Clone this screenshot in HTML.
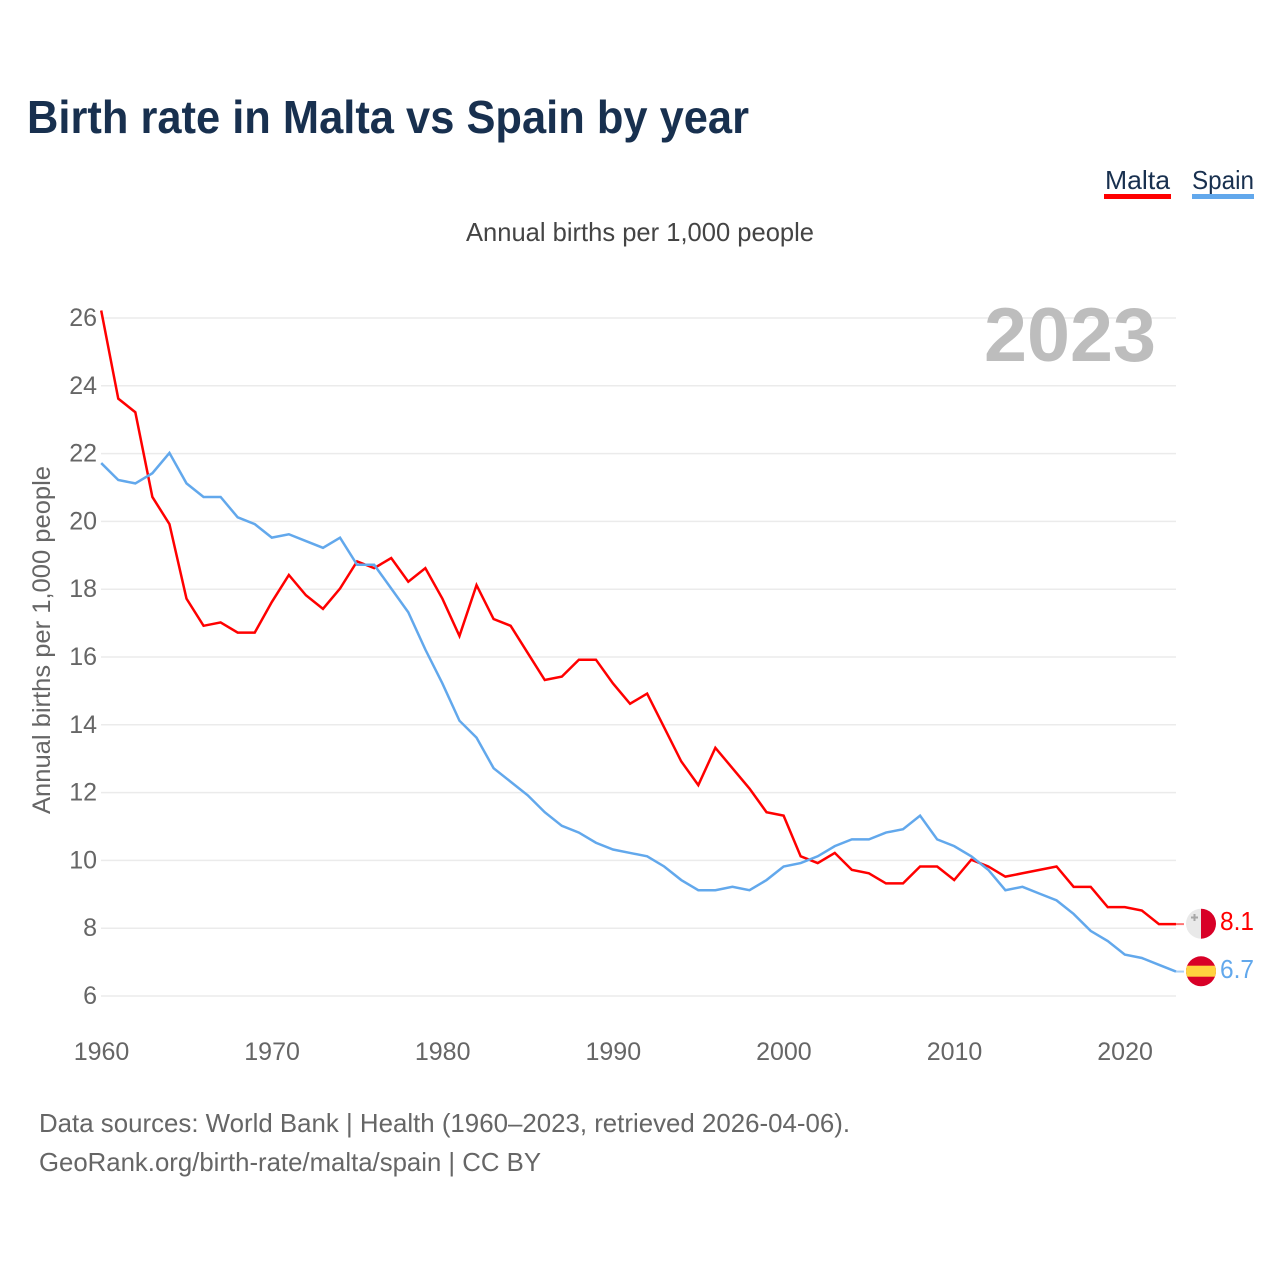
<!DOCTYPE html>
<html lang="en">
<head>
<meta charset="utf-8">
<title>Birth rate in Malta vs Spain by year</title>
<style>
html,body{margin:0;padding:0;background:#fff;}
svg{display:block;}
text{font-family:"Liberation Sans",sans-serif;}
</style>
</head>
<body>
<svg id="chart" xmlns="http://www.w3.org/2000/svg" width="1280" height="1280" viewBox="0 0 1280 1280">
  <rect x="0" y="0" width="1280" height="1280" fill="#fff"/>
  <text x="27" y="133" font-size="46" font-weight="700" fill="#18304f" textLength="722" lengthAdjust="spacingAndGlyphs">Birth rate in Malta vs Spain by year</text>

  <g>
    <text x="1105" y="189" font-size="26" fill="#18304f" textLength="65" lengthAdjust="spacingAndGlyphs">Malta</text>
    <rect x="1104" y="194" width="67" height="5" fill="#ff0000"/>
  </g>
  <g>
    <text x="1192" y="189" font-size="26" fill="#18304f" textLength="62" lengthAdjust="spacingAndGlyphs">Spain</text>
    <rect x="1192" y="194" width="62" height="5" fill="#62a8ec"/>
  </g>

  <text x="466" y="241" font-size="26" fill="#444" textLength="348" lengthAdjust="spacingAndGlyphs">Annual births per 1,000 people</text>
  <text transform="translate(50 814) rotate(-90)" x="0" y="0" font-size="25" fill="#666" textLength="348" lengthAdjust="spacingAndGlyphs">Annual births per 1,000 people</text>

  <g id="grid"></g>
  <g id="yticks"></g>
  <g id="xticks"></g>

  <text x="984" y="361" font-size="76" font-weight="700" fill="#bdbdbd" textLength="172" lengthAdjust="spacingAndGlyphs">2023</text>

  <g id="series" transform="translate(-0.3 -0.7)"></g>

  <g id="flag-malta">
    <clipPath id="clip-malta"><circle cx="1201" cy="923.700" r="15"/></clipPath>
    <g clip-path="url(#clip-malta)">
      <rect x="1186" y="908" width="15" height="31" fill="#e9e9e9"/>
      <rect x="1201" y="908" width="15" height="31" fill="#d80027"/>
      <path d="M1193.500 914h2v2.500h2.500v2h-2.500v2.500h-2v-2.500H1191v-2h2.500z" fill="#a7a7a7"/>
    </g>
  </g>
  <g id="flag-spain">
    <clipPath id="clip-spain"><circle cx="1201" cy="971.300" r="15"/></clipPath>
    <g clip-path="url(#clip-spain)">
      <rect x="1186" y="956" width="30" height="31" fill="#d80027"/>
      <rect x="1186" y="965.700" width="30" height="11" fill="#ffd23f"/>
    </g>
  </g>

  <text id="value-malta" x="1220" y="930" font-size="26" fill="#ff0000" textLength="34" lengthAdjust="spacingAndGlyphs"></text>
  <text id="value-spain" x="1220" y="978" font-size="26" fill="#62a8ec" textLength="34" lengthAdjust="spacingAndGlyphs"></text>

  <text x="39" y="1132" font-size="26" fill="#666" textLength="811" lengthAdjust="spacingAndGlyphs">Data sources: World Bank | Health (1960–2023, retrieved 2026-04-06).</text>
  <text x="39" y="1171" font-size="26" fill="#666" textLength="502" lengthAdjust="spacingAndGlyphs">GeoRank.org/birth-rate/malta/spain | CC BY</text>
</svg>
<script>
var firstYear = 1960;
var yTickValues = [6, 8, 10, 12, 14, 16, 18, 20, 22, 24, 26];
var xTickValues = [1960, 1970, 1980, 1990, 2000, 2010, 2020];
var maltaValues = [26.2,23.6,23.2,20.7,19.9,17.7,16.9,17.0,16.7,16.7,17.6,18.4,17.8,17.4,18.0,18.8,18.6,18.9,18.2,18.6,17.7,16.6,18.1,17.1,16.9,16.1,15.3,15.4,15.9,15.9,15.2,14.6,14.9,13.9,12.9,12.2,13.3,12.7,12.1,11.4,11.3,10.1,9.9,10.2,9.7,9.6,9.3,9.3,9.8,9.8,9.4,10.0,9.8,9.5,9.6,9.7,9.8,9.2,9.2,8.6,8.6,8.5,8.1,8.1];
var spainValues = [21.7,21.2,21.1,21.4,22.0,21.1,20.7,20.7,20.1,19.9,19.5,19.6,19.4,19.2,19.5,18.7,18.7,18.0,17.3,16.2,15.2,14.1,13.6,12.7,12.3,11.9,11.4,11.0,10.8,10.5,10.3,10.2,10.1,9.8,9.4,9.1,9.1,9.2,9.1,9.4,9.8,9.9,10.1,10.4,10.6,10.6,10.8,10.9,11.3,10.6,10.4,10.1,9.7,9.1,9.2,9.0,8.8,8.4,7.9,7.6,7.2,7.1,6.9,6.7];

var NS = 'http://www.w3.org/2000/svg';
function xScale(year) { return 101.5 + (year - 1960) * 17.06; }
function yScale(v) { return 996 - (v - 6) * 33.9; }
function make(tag, attrs, parent) {
  var el = document.createElementNS(NS, tag);
  for (var k in attrs) { el.setAttribute(k, attrs[k]); }
  parent.appendChild(el);
  return el;
}
var grid = document.getElementById('grid');
var yticks = document.getElementById('yticks');
var xticks = document.getElementById('xticks');
var series = document.getElementById('series');

yTickValues.forEach(function (v) {
  var line = make('line', {x1: 101, x2: 1176, y1: yScale(v), y2: yScale(v), stroke: '#ebebeb', 'stroke-width': 1.5}, grid);
  
  
  var t = make('text', {x: 97, y: yScale(v) + 8, 'text-anchor': 'end', 'font-size': 25, fill: '#666'}, yticks);
  t.textContent = String(v);
  
  
});

xTickValues.forEach(function (y) {
  var t = make('text', {x: xScale(y), y: 1060, 'text-anchor': 'middle', 'font-size': 25, fill: '#666'}, xticks);
  t.textContent = String(y);
  
  
});

function linePoints(values) {
  return values.map(function (v, i) {
    return xScale(firstYear + i).toFixed(2) + ',' + yScale(v).toFixed(2);
  }).join(' ');
}

var maltaLine = make('polyline', {points: linePoints(maltaValues), fill: 'none', stroke: '#ff0000', 'stroke-width': 2.5, 'stroke-linejoin': 'miter'}, series);


var spainLine = make('polyline', {points: linePoints(spainValues), fill: 'none', stroke: '#62a8ec', 'stroke-width': 2.5, 'stroke-linejoin': 'miter'}, series);



function connector(values, color) {
  var lastY = yScale(values[values.length - 1]);
  var x0 = xScale(firstYear + values.length - 1);
  return make('line', {x1: x0, x2: x0 + 8, y1: lastY, y2: lastY, stroke: color, 'stroke-width': 2, 'stroke-opacity': 0.55}, series);
}
var maltaConnector = connector(maltaValues, '#ff0000');


var spainConnector = connector(spainValues, '#62a8ec');



document.getElementById('value-malta').textContent = maltaValues[maltaValues.length - 1].toFixed(1);
document.getElementById('value-spain').textContent = spainValues[spainValues.length - 1].toFixed(1);
</script>
</body>
</html>
